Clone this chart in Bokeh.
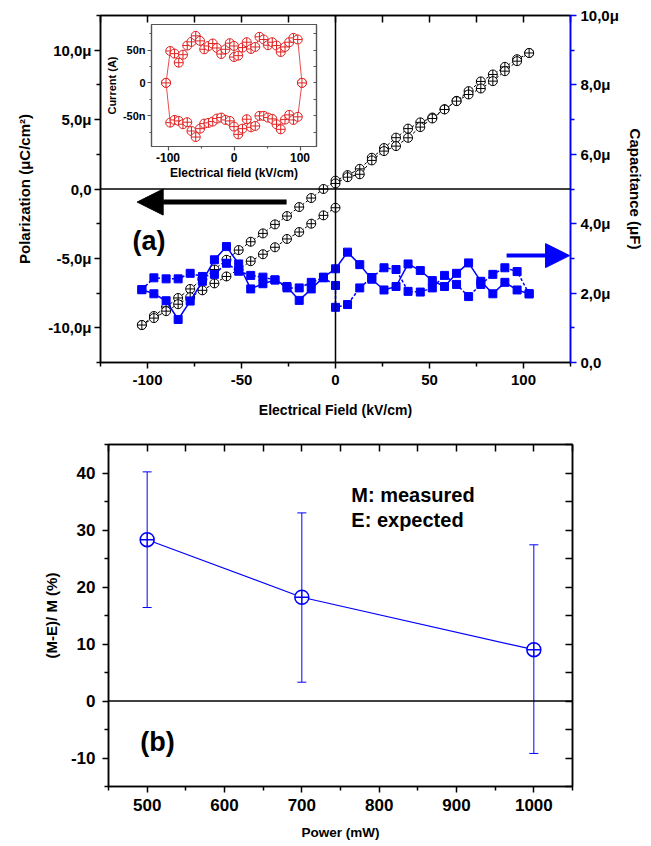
from bokeh.plotting import figure
from bokeh.models import (Range1d, LinearAxis, FixedTicker, Span, Label, Arrow,
                          NormalHead, Whisker, ColumnDataSource, TeeHead)
from bokeh.layouts import column
from bokeh.embed import file_html
from bokeh.resources import INLINE

# ---------------- data: panel (a) ----------------
field = [-103.0, -96.6, -90.1, -83.7, -77.3, -70.8, -64.4, -58.0, -51.5, -45.1, -38.6,
         -32.2, -25.8, -19.3, -12.9, -6.4, 0.0, 6.4, 12.9, 19.3, 25.8, 32.2, 38.6, 45.1,
         51.5, 58.0, 64.4, 70.8, 77.3, 83.7, 90.1, 96.6, 103.0]
field_dbl0 = [-103.0, -96.6, -90.1, -83.7, -77.3, -70.8, -64.4, -58.0, -51.5, -45.1, -38.6,
              -32.2, -25.8, -19.3, -12.9, -6.4, 0.0, 0.0, 6.4, 12.9, 19.3, 25.8, 32.2, 38.6,
              45.1, 51.5, 58.0, 64.4, 70.8, 77.3, 83.7, 90.1, 96.6, 103.0]

pol_up = [-9.8, -9.15, -8.5, -7.85, -7.2, -6.5, -5.8, -5.1, -4.4, -3.8, -3.2, -2.55, -1.95,
          -1.3, -0.65, 0.0, 0.6, 1.0, 1.45, 2.25, 2.95, 3.7, 4.35, 4.8, 5.15, 5.75, 6.35,
          7.05, 7.75, 8.25, 8.8, 9.35, 9.8]
pol_down = [-9.8, -9.3, -8.8, -8.3, -7.8, -7.3, -6.8, -6.3, -5.8, -5.2, -4.7, -4.2, -3.6,
            -3.1, -2.5, -1.9, -1.35, 0.4, 0.85, 1.06, 2.06, 2.73, 3.09, 3.69, 4.46, 5.08,
            5.73, 6.33, 6.81, 7.24, 7.77, 8.49, 9.21, 9.8]

cap_a = [2.1, 1.98, 1.78, 1.24, 1.77, 2.34, 2.96, 3.34, 2.84, 2.12, 2.27, 2.38, 2.19, 1.79,
         2.12, 2.46, 2.7, 3.18, 2.82, 2.40, 2.09, 2.19, 2.84, 2.65, 2.36, 2.19, 2.57, 2.87,
         2.34, 1.98, 2.31, 2.09, 1.98]
cap_b = [2.1, 2.44, 2.41, 2.41, 2.57, 2.48, 2.54, 2.86, 2.63, 2.51, 2.46, 2.38, 2.15, 2.15,
         2.31, 2.44, 2.22, 1.59, 1.67, 2.15, 2.45, 2.73, 2.68, 2.05, 2.03, 2.15, 2.51, 2.25,
         1.90, 2.25, 2.54, 2.73, 2.62, 1.98]

# inset (current, nA)
cur_up = [0.0, 48.6, 44.6, 30.8, 43.0, 56.9, 62.5, 71.7, 64.0, 51.2, 56.3, 60.0, 53.2, 44.0,
          51.2, 60.5, 56.3, 39.4, 41.5, 53.8, 62.0, 51.7, 54.8, 70.2, 66.2, 57.4, 62.0, 56.9,
          47.1, 54.8, 62.0, 68.6, 66.2, 0.0]
cur_down = [0.0, -60.6, -56.5, -58.0, -63.0, -60.0, -73.4, -82.6, -69.8, -62.1, -61.0, -59.0,
            -54.4, -52.9, -56.5, -58.0, -66.7, -78.5, -69.8, -55.4, -67.7, -65.7, -50.3, -50.3,
            -52.9, -54.9, -63.1, -70.8, -56.0, -48.8, -56.5, -51.8, 0.0]

# ticks / labels panel (a)
field_ticks = [-100, -50, 0, 50, 100]
field_labels = ["-100", "-50", "0", "50", "100"]
field_minor = [-125, -75, -25, 25, 75, 125]
field_top_ticks = [-125, -100, -75, -50, -25, 0, 25, 50, 75, 100, 125]
pol_ticks = [-10, -5, 0, 5, 10]
pol_minor = [-12.5, -7.5, -2.5, 2.5, 7.5, 12.5]
pol_labels = ["-10,0\u03bc", "-5,0\u03bc", "0,0", "5,0\u03bc", "10,0\u03bc"]
cap_ticks = [0, 2, 4, 6, 8, 10]
cap_minor = [1, 3, 5, 7, 9]
cap_labels = ["0,0", "2,0\u03bc", "4,0\u03bc", "6,0\u03bc", "8,0\u03bc", "10,0\u03bc"]
inset_x_ticks = [-100, 0, 100]
inset_x_labels = ["-100", "0", "100"]
inset_x_minor = [-50, 50]
inset_y_ticks = [-50, 0, 50]
inset_y_minor = [-75, -25, 25, 75]
inset_y_labels = ["-50n", "0", "50n"]
inset_right_ticks = [-75, -50, -25, 0, 25, 50, 75]

# ---------------- data: panel (b) ----------------
power = [500, 700, 1000]
ratio = [28.3, 18.2, 9.0]
ratio_low = [16.4, 3.3, -9.2]
ratio_high = [40.2, 33.0, 27.4]
power_ticks = [500, 600, 700, 800, 900, 1000]
power_minor = [450, 550, 650, 750, 850, 950, 1050]
power_top_ticks = [450, 500, 550, 600, 650, 700, 750, 800, 850, 900, 950, 1000, 1050]
ratio_ticks = [-10, 0, 10, 20, 30, 40]
ratio_labels = ["-10", "0", "10", "20", "30", "40"]
ratio_minor = [-15, -5, 5, 15, 25, 35, 45]
ratio_right_ticks = [-15, -10, -5, 0, 5, 10, 15, 20, 25, 30, 35, 40, 45]

FONT = "Liberation Sans"
BLUE = "#0000ff"
RED = "#e02020"


def style_axis(ax, size, label_size, color="black", tick_out=6, minor_out=4, lw=1.5):
    ax.major_label_text_font = FONT
    ax.major_label_text_font_style = "bold"
    ax.major_label_text_font_size = f"{size}px"
    ax.major_label_text_color = "black"
    ax.axis_label_text_font = FONT
    ax.axis_label_text_font_style = "bold"
    ax.axis_label_text_font_size = f"{label_size}px"
    ax.axis_label_text_color = "black"
    ax.axis_line_width = lw
    ax.axis_line_color = color
    ax.major_tick_line_color = color
    ax.minor_tick_line_color = color
    ax.major_tick_line_width = lw
    ax.minor_tick_line_width = lw
    ax.major_tick_out = tick_out
    ax.major_tick_in = 0
    ax.minor_tick_out = minor_out
    ax.minor_tick_in = 0


def mirror_axis(ticks, tick_in, color="black", lw=1.5):
    # ticks only (drawn as minor ticks), no labels
    return LinearAxis(ticker=FixedTicker(ticks=[], minor_ticks=ticks),
                      major_tick_in=0, major_tick_out=0, major_label_standoff=0,
                      minor_tick_in=tick_in, minor_tick_out=0,
                      axis_line_color=color, axis_line_width=lw,
                      minor_tick_line_color=color, minor_tick_line_width=lw)


# column layouts share left/right border sizes, so all use the same ones
BL, BR = 100, 78

# ---------------- panel (a) ----------------
pa = figure(frame_width=470, frame_height=347, x_range=Range1d(-125, 125),
            y_range=Range1d(-12.5, 12.5), output_backend="svg", toolbar_location=None,
            min_border_left=BL, min_border_right=BR, min_border_top=15, min_border_bottom=60,
            x_axis_label="Electrical Field (kV/cm)",
            y_axis_label="Polarization (\u03bcC/cm\u00b2)")
pa.grid.visible = False
pa.outline_line_color = "black"
pa.outline_line_width = 1.5
pa.extra_y_ranges = {"cap": Range1d(0, 10)}

xa = pa.xaxis[0]
xa.ticker = FixedTicker(ticks=field_ticks, minor_ticks=field_minor)
xa.major_label_overrides = {t: l for t, l in zip(field_ticks, field_labels)}
style_axis(xa, 15, 14)
xa.major_label_standoff = 6
xa.axis_label_standoff = 14

ya = pa.yaxis[0]
ya.ticker = FixedTicker(ticks=pol_ticks, minor_ticks=pol_minor)
ya.major_label_overrides = {t: l for t, l in zip(pol_ticks, pol_labels)}
style_axis(ya, 15, 15)
ya.major_label_standoff = 3
ya.axis_label_standoff = 12

cap_axis = LinearAxis(y_range_name="cap", axis_label="Capacitance (\u03bcF)",
                      ticker=FixedTicker(ticks=cap_ticks, minor_ticks=cap_minor))
cap_axis.major_label_overrides = {t: l for t, l in zip(cap_ticks, cap_labels)}
style_axis(cap_axis, 15, 15, color=BLUE)
cap_axis.major_label_standoff = 4
cap_axis.axis_label_standoff = 5
pa.add_layout(cap_axis, "right")

pa.add_layout(mirror_axis(field_top_ticks, 7), "above")

pa.add_layout(Span(location=0, dimension="width", line_color="black", line_width=1.5))
pa.add_layout(Span(location=0, dimension="height", line_color="black", line_width=1.5))

# polarization loops
pa.line(field, pol_up, line_color="black", line_width=1, line_dash="3 2")
pa.line(field_dbl0, pol_down, line_color="black", line_width=1, line_dash="3 2")
pa.scatter(field, pol_up, marker="circle_cross", size=9, line_color="black",
           fill_color="white", line_width=1)
pa.scatter(field_dbl0, pol_down, marker="circle_cross", size=9, line_color="black",
           fill_color="white", line_width=1)

# capacitance loops
pa.line(field, cap_a, y_range_name="cap", line_color=BLUE, line_width=1.5)
pa.line(field_dbl0, cap_b, y_range_name="cap", line_color=BLUE, line_width=1.5,
        line_dash="3 2")
pa.scatter(field, cap_a, y_range_name="cap", marker="square", size=8, color=BLUE)
pa.scatter(field_dbl0, cap_b, y_range_name="cap", marker="square", size=8, color=BLUE)

# arrows and panel letter
pa.add_layout(Arrow(end=NormalHead(size=26, fill_color="black", line_color="black"),
                    x_start=-26, y_start=-0.94, x_end=-105.5, y_end=-0.94,
                    line_color="black", line_width=5))
pa.add_layout(Arrow(end=NormalHead(size=24, fill_color=BLUE, line_color=BLUE),
                    x_start=91, y_start=3.08, x_end=124.5, y_end=3.08,
                    y_range_name="cap", line_color=BLUE, line_width=4))
pa.add_layout(Label(x=-108, y=-3.74, text="(a)", text_font=FONT, text_font_style="bold",
                    text_font_size="27px", text_baseline="middle", text_color="black"))

# ---------------- inset ----------------
pi = figure(frame_width=165, frame_height=122, x_range=Range1d(-125, 125),
            y_range=Range1d(-97, 89), output_backend="svg", toolbar_location=None,
            min_border_left=BL, min_border_right=BR, min_border_top=4, min_border_bottom=36,
            x_axis_label="Electrical field (kV/cm)", y_axis_label="Current (A)")
pi.grid.visible = False
pi.outline_line_color = "#555555"
pi.outline_line_width = 1.2
pi.border_fill_alpha = 0
pi.background_fill_color = "white"
ix = pi.xaxis[0]
ix.ticker = FixedTicker(ticks=inset_x_ticks, minor_ticks=inset_x_minor)
ix.major_label_overrides = {t: l for t, l in zip(inset_x_ticks, inset_x_labels)}
style_axis(ix, 12, 12, color="#555555", tick_out=4, minor_out=2, lw=1.2)
ix.major_label_standoff = 2
ix.axis_label_standoff = 1
iy = pi.yaxis[0]
iy.ticker = FixedTicker(ticks=inset_y_ticks, minor_ticks=inset_y_minor)
iy.major_label_overrides = {t: l for t, l in zip(inset_y_ticks, inset_y_labels)}
style_axis(iy, 11, 11, color="#555555", tick_out=4, minor_out=2, lw=1.2)
iy.major_label_standoff = 2
iy.axis_label_standoff = 2
pi.add_layout(mirror_axis(inset_right_ticks, 3, color="#555555", lw=1.2), "right")

pi.line(field_dbl0, cur_up, line_color=RED, line_width=0.8)
pi.line(field, cur_down, line_color=RED, line_width=0.8)
pi.scatter(field_dbl0, cur_up, marker="circle_cross", size=9, line_color=RED,
           fill_color="white", line_width=1)
pi.scatter(field, cur_down, marker="circle_cross", size=9, line_color=RED,
           fill_color="white", line_width=1)
# place the inset over panel (a): (top, right, bottom, left)
pi.margin = (-402, 0, 240, 51)

# ---------------- panel (b) ----------------
pb = figure(frame_width=464, frame_height=342, x_range=Range1d(450, 1050),
            y_range=Range1d(-15, 45), output_backend="svg", toolbar_location=None,
            min_border_left=BL, min_border_right=BR, min_border_top=22, min_border_bottom=52,
            x_axis_label="Power (mW)", y_axis_label="(M-E)/ M (%)")
pb.margin = (0, 0, 0, 8)
pb.grid.visible = False
pb.outline_line_color = "black"
pb.outline_line_width = 1.5
bx = pb.xaxis[0]
bx.ticker = FixedTicker(ticks=power_ticks, minor_ticks=power_minor)
style_axis(bx, 17, 13.5)
bx.major_label_standoff = 6
bx.axis_label_standoff = 11
by = pb.yaxis[0]
by.ticker = FixedTicker(ticks=ratio_ticks, minor_ticks=ratio_minor)
by.major_label_overrides = {t: l for t, l in zip(ratio_ticks, ratio_labels)}
style_axis(by, 17, 15)
by.major_label_standoff = 7
by.axis_label_standoff = 8
pb.add_layout(mirror_axis(power_top_ticks, 7), "above")
pb.add_layout(mirror_axis(ratio_right_ticks, 7), "right")
pb.add_layout(Span(location=0, dimension="width", line_color="black", line_width=1.5))

src = ColumnDataSource(dict(power=power, ratio=ratio, low=ratio_low, high=ratio_high))
pb.add_layout(Whisker(source=src, base="power", lower="low", upper="high",
                      dimension="height", line_color=BLUE, line_width=1,
                      upper_head=TeeHead(size=9, line_color=BLUE, line_width=1),
                      lower_head=TeeHead(size=9, line_color=BLUE, line_width=1)))
pb.line("power", "ratio", source=src, line_color=BLUE, line_width=1.2)
pb.scatter("power", "ratio", source=src, marker="circle_cross", size=14,
           line_color=BLUE, fill_color="white", line_width=1.5)

pb.add_layout(Label(x=764, y=36.1, text="M: measured", text_font=FONT,
                    text_font_style="bold", text_font_size="20px", text_baseline="middle",
                    text_color="black"))
pb.add_layout(Label(x=764, y=31.8, text="E: expected", text_font=FONT,
                    text_font_style="bold", text_font_size="20px", text_baseline="middle",
                    text_color="black"))
pb.add_layout(Label(x=491, y=-7.2, text="(b)", text_font=FONT, text_font_style="bold",
                    text_font_size="27px", text_baseline="middle", text_color="black"))

layout = column(pa, pi, pb, spacing=0)
open("out.html", "w").write(file_html(layout, INLINE))
